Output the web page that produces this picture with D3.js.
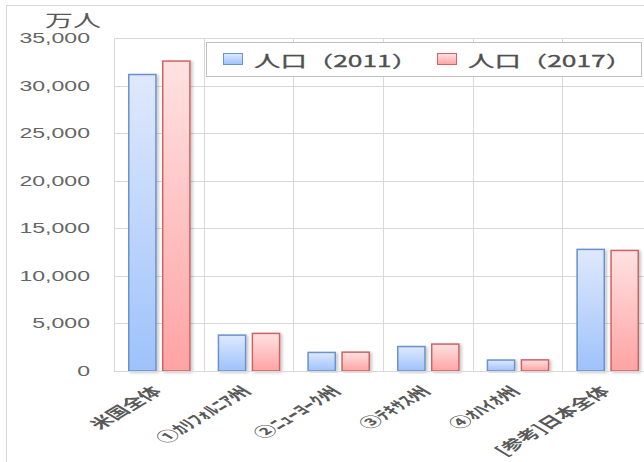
<!DOCTYPE html>
<html>
<head>
<meta charset="utf-8">
<script src="https://cdn.jsdelivr.net/npm/d3@7"></script>
<style>
  body { margin: 0; background: #fff; }
  svg { display: block; font-family: "Noto Sans CJK JP", "Noto Sans", sans-serif; }
</style>
</head>
<body>
<div class="chart"></div>
<script>
// data (unit: 万人)
var categories = ['米国全体', '①ｶﾘﾌｫﾙﾆｱ州', '②ﾆｭｰﾖｰｸ州', '③ﾃｷｻｽ州', '④ｵﾊｲｵ州', '[参考]日本全体'];
var pop2011 = [31160, 3770, 1950, 2570, 1150, 12780];
var pop2017 = [32570, 3950, 1980, 2830, 1170, 12670];
var seriesNames = ['人口（2011）', '人口（2017）'];
var yTicks = [0, 5000, 10000, 15000, 20000, 25000, 30000, 35000];

var width = 644, height = 462;
var plot = { left: 114, top: 38, right: 652, bottom: 371 };
// the original picture is stretched sideways, so text is too
var stretch = 1.65;
var textColor = '#595959';

var svg = d3.select('.chart').append('svg')
  .attr('width', width)
  .attr('height', height);

var defs = svg.append('defs');

// gradient fills, light at the top, deeper at the bottom
function gradient(id, top, bottom) {
  var g = defs.append('linearGradient')
    .attr('id', id)
    .attr('x1', 0).attr('y1', 0).attr('x2', 0).attr('y2', 1);
  g.append('stop').attr('offset', '0%').attr('stop-color', top);
  g.append('stop').attr('offset', '100%').attr('stop-color', bottom);
}
gradient('gBlue', '#dfe9fd', '#9ec2fb');
gradient('gRed', '#ffe2e2', '#ffa3a3');

var shadow = defs.append('filter').attr('id', 'shadow')
  .attr('x', '-20%').attr('y', '-5%').attr('width', '150%').attr('height', '115%');
shadow.append('feDropShadow')
  .attr('dx', 2).attr('dy', 1).attr('stdDeviation', 1.5)
  .attr('flood-color', '#000').attr('flood-opacity', 0.22);

// chart area border
svg.append('rect')
  .attr('x', 6.5).attr('y', 5.5)
  .attr('width', 700).attr('height', 500)
  .attr('fill', 'none').attr('stroke', '#d9d9d9');

var x = d3.scaleBand()
  .domain(categories)
  .range([plot.left, plot.right])
  .paddingInner(0).paddingOuter(0);

var x1 = d3.scaleBand()
  .domain([0, 1])
  .range([0, x.bandwidth()])
  .paddingInner(0.2).paddingOuter(0.42);

var y = d3.scaleLinear()
  .domain([0, 35000])
  .range([plot.bottom, plot.top]);

// horizontal gridlines
svg.append('g').selectAll('line')
  .data(yTicks)
  .join('line')
  .attr('x1', plot.left).attr('x2', plot.right)
  .attr('y1', function(d) { return Math.round(y(d)) + 0.5; })
  .attr('y2', function(d) { return Math.round(y(d)) + 0.5; })
  .attr('stroke', '#d9d9d9');

// vertical gridlines at category boundaries
svg.append('g').selectAll('line')
  .data(categories)
  .join('line')
  .attr('x1', function(d) { return Math.round(x(d)) + 0.5; })
  .attr('x2', function(d) { return Math.round(x(d)) + 0.5; })
  .attr('y1', plot.top).attr('y2', plot.bottom)
  .attr('stroke', '#d9d9d9');

// y axis labels (stretched like the original)
var yAxis = d3.axisLeft(y)
  .tickValues(yTicks)
  .tickFormat(d3.format(','))
  .tickSize(0)
  .tickPadding(0);

svg.append('g')
  .attr('transform', 'translate(' + plot.left + ',0)')
  .call(yAxis)
  .call(function(g) { g.select('.domain').remove(); })
  .selectAll('text')
  .attr('x', 0)
  .attr('transform', 'translate(-24,0) scale(' + stretch + ',1)')
  .attr('font-family', '"Liberation Sans", Arial, sans-serif')
  .attr('font-size', 14)
  .attr('fill', '#666');

svg.append('text')
  .attr('transform', 'translate(45,27) scale(' + stretch + ',1)')
  .attr('font-size', 17)
  .attr('fill', textColor)
  .text('万人');

// bars
var groups = svg.append('g').selectAll('g')
  .data(categories)
  .join('g')
  .attr('transform', function(d) { return 'translate(' + x(d) + ',0)'; });

groups.selectAll('rect')
  .data(function(d, i) {
    return [
      { s: 0, v: pop2011[i] },
      { s: 1, v: pop2017[i] }
    ];
  })
  .join('rect')
  .attr('x', function(d) { return x1(d.s) + 0.5; })
  .attr('y', function(d) { return y(d.v); })
  .attr('width', x1.bandwidth())
  .attr('height', function(d) { return plot.bottom - y(d.v); })
  .attr('fill', function(d) { return d.s === 0 ? 'url(#gBlue)' : 'url(#gRed)'; })
  .attr('stroke', function(d) { return d.s === 0 ? '#6a92cc' : '#cf6464'; })
  .attr('stroke-width', 1.5)
  .attr('filter', 'url(#shadow)');

// baseline
svg.append('line')
  .attr('x1', plot.left).attr('x2', plot.right)
  .attr('y1', plot.bottom + 0.5).attr('y2', plot.bottom + 0.5)
  .attr('stroke', '#d9d9d9');

// category labels, rotated 45 degrees then stretched
svg.append('g').selectAll('text')
  .data(categories)
  .join('text')
  .attr('transform', function(d) {
    return 'translate(' + (x(d) + x.bandwidth() / 2 - 3) + ',' + (plot.bottom + 17) +
      ') scale(' + stretch + ',1) rotate(-45)';
  })
  .attr('text-anchor', 'end')
  .attr('dominant-baseline', 'central')
  .attr('font-size', 13.5)
  .attr('font-weight', 'bold')
  .attr('fill', textColor)
  .text(function(d) { return d; });

// legend
var legend = svg.append('g');
legend.append('rect')
  .attr('x', 206.5).attr('y', 42.5)
  .attr('width', 435).attr('height', 34)
  .attr('fill', '#fff').attr('stroke', '#bfbfbf');

var legendX = [223, 437];
var items = legend.selectAll('g.item')
  .data(seriesNames)
  .join('g')
  .attr('class', 'item')
  .attr('transform', function(d, i) { return 'translate(' + legendX[i] + ',0)'; });

items.append('rect')
  .attr('x', 0.5).attr('y', 53.5)
  .attr('width', 19).attr('height', 11)
  .attr('fill', function(d, i) { return i === 0 ? 'url(#gBlue)' : 'url(#gRed)'; })
  .attr('stroke', function(d, i) { return i === 0 ? '#6a92cc' : '#cf6464'; });

items.append('text')
  .attr('transform', 'translate(31,60) scale(' + stretch + ',1)')
  .attr('dominant-baseline', 'central')
  .attr('font-size', 16)
  .attr('fill', '#505050')
  .attr('stroke', '#505050')
  .attr('stroke-width', 0.3)
  .text(function(d) { return d; });
</script>
</body>
</html>
